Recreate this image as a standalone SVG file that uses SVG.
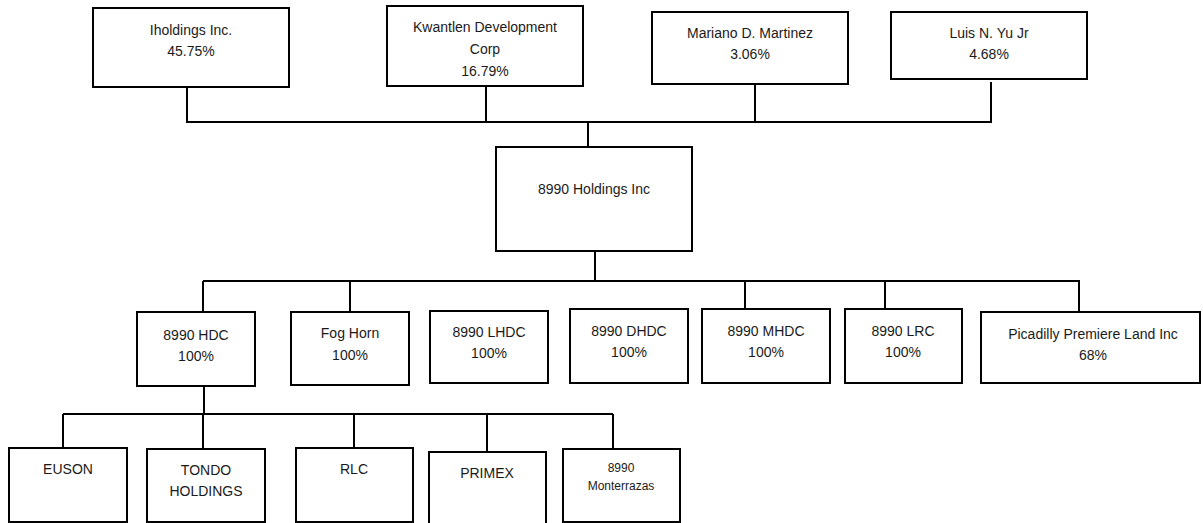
<svg xmlns="http://www.w3.org/2000/svg" width="1203" height="523" viewBox="0 0 1203 523">
<style>
.box{fill:#fff;stroke:#000;stroke-width:2}
.ln{fill:none;stroke:#000;stroke-width:2}
text{font-family:"Liberation Sans",Arial,sans-serif;font-size:14px;fill:#1a1a1a;text-anchor:middle;dominant-baseline:central}
.sm{font-size:12px}
</style>
<rect width="1203" height="523" fill="#fff"/>
<g id="connectors">
<path class="ln" d="M187 87V122H992M486 86V122M755 84V122M991 82V122M588 121V147"/>
<path class="ln" d="M595 251V281M203 281H1079M203 281V312M350 281V312M745 281V309M885 281V309M1079 280V312"/>
<path class="ln" d="M204 386V414M63 414H613M63 414V448M203 414V449M354 414V448M487 414V452M613 414V449"/>
</g>
<g id="iholdings"><rect class="box" x="93" y="8" width="196" height="79"/><text x="191" y="30">Iholdings Inc.</text><text x="191" y="51">45.75%</text></g>
<g id="kwantlen"><rect class="box" x="387" y="6" width="196" height="80"/><text x="485" y="27">Kwantlen Development</text><text x="485" y="49">Corp</text><text x="485" y="71">16.79%</text></g>
<g id="mariano"><rect class="box" x="652" y="12" width="196" height="72"/><text x="750" y="33">Mariano D. Martinez</text><text x="750" y="54">3.06%</text></g>
<g id="luis"><rect class="box" x="891" y="12" width="196" height="67"/><text x="989" y="33">Luis N. Yu Jr</text><text x="989" y="54">4.68%</text></g>
<g id="holdings8990"><rect class="box" x="496" y="147" width="196" height="104"/><text x="594" y="189">8990 Holdings Inc</text></g>
<g id="hdc"><rect class="box" x="137" y="312" width="118" height="74"/><text x="196" y="335">8990 HDC</text><text x="196" y="356">100%</text></g>
<g id="foghorn"><rect class="box" x="291" y="312" width="118" height="73"/><text x="350" y="333">Fog Horn</text><text x="350" y="355">100%</text></g>
<g id="lhdc"><rect class="box" x="430" y="311" width="118" height="72"/><text x="489" y="332">8990 LHDC</text><text x="489" y="353">100%</text></g>
<g id="dhdc"><rect class="box" x="570" y="309" width="118" height="74"/><text x="629" y="331">8990 DHDC</text><text x="629" y="352">100%</text></g>
<g id="mhdc"><rect class="box" x="702" y="309" width="128" height="74"/><text x="766" y="331">8990 MHDC</text><text x="766" y="352">100%</text></g>
<g id="lrc"><rect class="box" x="845" y="309" width="117" height="74"/><text x="903" y="331">8990 LRC</text><text x="903" y="352">100%</text></g>
<g id="picadilly"><rect class="box" x="981" y="312" width="219" height="71"/><text x="1093" y="334">Picadilly Premiere Land Inc</text><text x="1093" y="355">68%</text></g>
<g id="euson"><rect class="box" x="9" y="448" width="118" height="74"/><text x="68" y="469">EUSON</text></g>
<g id="tondo"><rect class="box" x="147" y="449" width="118" height="73"/><text x="206" y="470">TONDO</text><text x="206" y="491">HOLDINGS</text></g>
<g id="rlc"><rect class="box" x="296" y="448" width="117" height="74"/><text x="354" y="469">RLC</text></g>
<g id="primex"><rect class="box" x="429" y="452" width="117" height="75"/><text x="487" y="473">PRIMEX</text></g>
<g id="monterrazas"><rect class="box" x="563" y="449" width="117" height="73"/><text class="sm" x="621" y="468">8990</text><text class="sm" x="621" y="486">Monterrazas</text></g>
</svg>
